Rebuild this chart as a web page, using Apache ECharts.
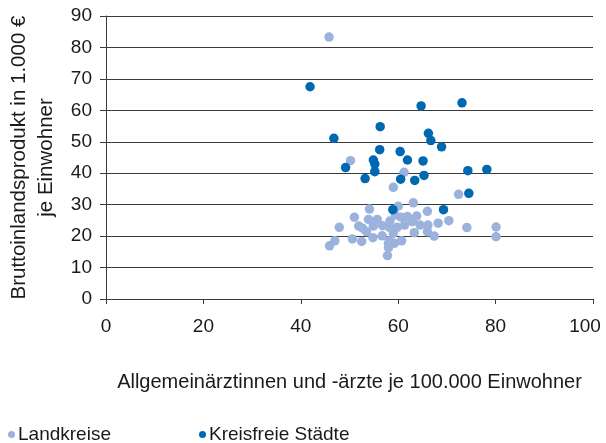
<!DOCTYPE html>
<html>
<head>
<meta charset="utf-8">
<script src="https://cdn.jsdelivr.net/npm/echarts@6/dist/echarts.min.js"></script>
<style>
  html, body { margin: 0; padding: 0; background: #fff; }
  #chart { width: 606px; height: 443px; }
</style>
</head>
<body>
<div id="chart"></div>
<script>
// Allgemeinärzte je 100.000 Einwohner (x) vs. BIP in 1.000 € je Einwohner (y)
const landkreise = [
  [45.8, 83.3], [50.2, 44.0], [61.2, 40.3], [59.0, 35.5], [72.4, 33.3],
  [63.1, 30.6], [54.1, 28.6], [60.0, 29.5], [66.0, 27.9], [51.0, 26.0],
  [53.9, 25.3], [55.7, 25.3], [58.3, 24.8], [59.4, 26.7], [60.6, 26.0],
  [61.9, 26.2], [63.8, 26.4], [62.9, 24.6], [61.3, 23.5], [59.8, 22.8],
  [58.2, 22.8], [56.8, 23.3], [54.9, 23.2], [51.9, 23.2], [52.7, 22.5],
  [53.5, 21.4], [47.9, 22.8], [64.5, 23.5], [66.1, 23.5], [68.2, 24.1],
  [70.4, 24.9], [74.1, 22.7], [80.1, 22.9], [80.1, 19.8], [66.0, 21.4],
  [63.3, 21.1], [67.4, 20.0], [59.0, 20.9], [56.7, 20.1], [54.8, 19.5],
  [50.6, 19.1], [52.5, 18.3], [47.0, 18.5], [45.9, 16.9], [58.2, 18.5],
  [59.2, 17.7], [60.7, 18.5], [58.0, 16.3], [57.8, 13.8], [58.0, 17.7]
];
const kreisfreieStaedte = [
  [41.9, 67.5], [46.8, 51.1], [56.3, 54.8], [64.7, 61.4], [73.1, 62.4],
  [66.2, 52.7], [66.7, 50.4], [68.9, 48.4], [65.1, 43.9], [65.3, 39.3],
  [74.3, 40.8], [78.2, 41.2], [56.2, 47.5], [60.4, 46.9], [61.9, 44.2],
  [54.9, 44.2], [55.2, 42.9], [55.2, 40.5], [49.2, 41.8], [53.2, 38.3],
  [60.5, 38.1], [63.4, 37.7], [74.5, 33.6], [58.9, 28.4], [69.3, 28.4]
];
const seriesNames = ['Landkreise', 'Kreisfreie Städte'];
const xAxisTitle = 'Allgemeinärztinnen und -ärzte je 100.000 Einwohner';
const yAxisTitle = 'Bruttoinlandsprodukt in 1.000 €\nje Einwohner';
const X_MAX = 100;

const FONT = '"Liberation Sans", Arial, sans-serif';
const TEXT = '#1a1a1a';
const LINE = '#3a3a3a';
const LIGHT = '#9bb3dc';
const DARK = '#0067b1';
const FS = 19;

const legendText = { fontFamily: FONT, fontSize: FS, color: TEXT, padding: [0, 0, 0, -2] };

const chart = echarts.init(document.getElementById('chart'), null, { renderer: 'canvas' });
chart.setOption({
  animation: false,
  backgroundColor: '#fff',
  textStyle: { fontFamily: FONT },
  grid: { left: 106, right: 13, top: 16, bottom: 144, containLabel: false, outerBoundsMode: 'none' },
  legend: [
    {
      data: [seriesNames[0]], left: 3, bottom: -6,
      icon: 'circle', itemWidth: 7, itemHeight: 7, itemGap: 4,
      textStyle: legendText
    },
    {
      data: [seriesNames[1]], left: 194, bottom: -6,
      icon: 'circle', itemWidth: 7, itemHeight: 7, itemGap: 4,
      textStyle: legendText
    }
  ],
  xAxis: {
    type: 'value', min: 0, max: X_MAX, interval: 20,
    name: xAxisTitle, nameLocation: 'middle', nameGap: 73,
    nameTextStyle: { fontFamily: FONT, fontSize: 20, color: TEXT },
    axisLine: { show: true, lineStyle: { color: LINE, width: 1 } },
    axisTick: { show: true, length: 5, lineStyle: { color: LINE } },
    axisLabel: {
      fontFamily: FONT, fontSize: FS, color: TEXT, margin: 18,
      // keep the last label inside the canvas edge
      formatter: (v) => (v === X_MAX ? '{edge|' + v + '}' : String(v)),
      rich: { edge: { fontFamily: FONT, fontSize: FS, color: TEXT, padding: [0, 16, 0, 0] } }
    },
    splitLine: { show: false }
  },
  yAxis: {
    type: 'value', min: 0, max: 90, interval: 10,
    name: yAxisTitle, nameLocation: 'middle', nameGap: 45, nameRotate: 90,
    nameTextStyle: { fontFamily: FONT, fontSize: 20.5, color: TEXT, lineHeight: 27 },
    axisLine: { show: true, lineStyle: { color: LINE, width: 1 } },
    axisTick: { show: true, length: 6, lineStyle: { color: LINE } },
    axisLabel: { fontFamily: FONT, fontSize: FS, color: TEXT, margin: 14 },
    splitLine: { show: true, lineStyle: { color: LINE, width: 1 } }
  },
  series: [
    {
      name: seriesNames[0], type: 'scatter', data: landkreise,
      symbol: 'circle', symbolSize: 9.5,
      itemStyle: { color: LIGHT, opacity: 1 }
    },
    {
      name: seriesNames[1], type: 'scatter', data: kreisfreieStaedte,
      symbol: 'circle', symbolSize: 9.5,
      itemStyle: { color: DARK, opacity: 1 }
    }
  ]
});
</script>
</body>
</html>
